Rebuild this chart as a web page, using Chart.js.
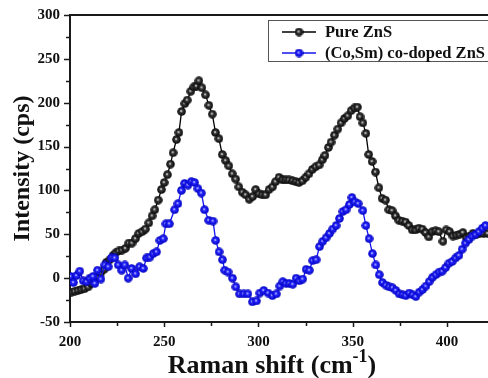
<!DOCTYPE html>
<html>
<head>
<meta charset="utf-8">
<script src="https://cdn.jsdelivr.net/npm/chart.js@4.4.1/dist/chart.umd.min.js"></script>
<style>
  html, body { margin: 0; padding: 0; background: #fff; }
  #wrap { width: 488px; height: 378px; }
</style>
</head>
<body>
<div id="wrap"><canvas id="chart" width="488" height="378"></canvas></div>
<script>
// Pure ZnS
const pureX = [200.7, 202.5, 204.3, 206.0, 207.8, 209.6, 211.3, 213.1, 214.5, 216.3, 218.1, 219.3, 221.1, 222.9, 224.3, 225.9,
  227.6, 229.4, 231.2, 232.9, 234.7, 236.5, 238.3, 240.0, 241.8, 243.6, 245.0, 246.8, 248.5, 250.0, 251.7, 253.3,
  254.7, 256.5, 257.8, 259.2, 260.9, 262.2, 264.1, 265.7, 267.1, 268.4, 270.0, 271.9, 273.7, 275.5, 277.2, 279.0,
  280.8, 282.6, 284.3, 286.1, 287.9, 289.6, 291.4, 293.2, 295.1, 296.9, 298.5, 300.3, 302.0, 303.8, 305.6, 307.4,
  309.1, 310.9, 312.7, 314.4, 316.2, 318.0, 319.8, 321.5, 323.3, 325.1, 326.8, 328.6, 330.4, 332.2, 333.9, 335.3,
  337.1, 338.5, 340.3, 342.1, 343.8, 345.6, 347.4, 349.2, 350.9, 352.5, 353.9, 355.4, 357.0, 358.5, 360.3, 362.1,
  363.9, 365.6, 367.4, 369.2, 370.9, 372.7, 374.5, 376.3, 378.0, 379.8, 381.6, 383.3, 385.1, 386.9, 388.7, 390.4,
  392.2, 394.0, 395.7, 397.9, 399.6, 401.4, 403.2, 405.0, 406.7, 408.5, 410.3, 412.0, 413.8, 415.6, 417.4, 419.5, 421.6];
const pureY = [-16, -15, -14, -13, -12, -10, -6, -3, 1, 6, 10, 18, 21, 26, 29, 31,
  32, 34, 40, 40, 45, 51, 53, 56, 63, 71, 78, 89, 101, 109, 118, 130,
  143, 158, 166, 190, 199, 203, 213, 218, 219, 225, 217, 209, 197, 187, 166, 159,
  141, 134, 128, 119, 113, 104, 98, 95, 90, 93, 101, 96, 95, 95, 101, 104,
  110, 115, 112, 112, 112, 111, 110, 109, 111, 115, 119, 124, 127, 129, 135, 140,
  149, 155, 163, 170, 177, 182, 185, 191, 194, 195, 184, 177, 165, 141, 133, 121,
  103, 91, 89, 78, 77, 71, 66, 65, 64, 60, 55, 55, 57, 56, 52, 47,
  53, 54, 53, 42, 55, 53, 48, 49, 50, 52, 46, 48, 51, 50, 51, 51, 51];

// (Co,Sm) co-doped ZnS
const dopedX = [200.3, 201.8, 203.5, 205.2, 207.0, 208.8, 210.5, 212.2, 213.2, 214.6, 216.4, 218.5, 220.3, 222.0, 223.8, 225.6,
  227.4, 229.1, 230.9, 232.7, 234.8, 236.9, 238.9, 240.6, 242.4, 244.2, 245.9, 247.7, 249.5, 250.9, 252.7, 255.5,
  257.3, 259.1, 260.8, 262.6, 264.4, 266.1, 267.9, 269.7, 271.4, 273.6, 275.9, 277.3, 279.1, 280.9, 282.1, 283.9,
  286.2, 288.0, 290.0, 292.2, 294.4, 296.8, 298.9, 300.7, 302.8, 305.1, 307.4, 309.5, 311.3, 312.9, 314.6, 316.4,
  318.2, 320.0, 321.7, 323.5, 325.3, 327.0, 328.8, 330.6, 332.4, 334.1, 335.9, 337.7, 339.4, 341.2, 343.0, 344.8,
  346.5, 348.3, 349.6, 351.1, 352.9, 355.4, 357.0, 358.7, 360.5, 362.3, 364.1, 365.8, 367.6, 369.4, 371.1, 372.9,
  374.7, 376.5, 378.2, 380.0, 381.8, 383.5, 385.3, 387.1, 388.9, 390.6, 392.4, 394.2, 395.9, 397.5, 399.3, 401.1,
  402.8, 404.6, 406.4, 408.1, 409.9, 411.7, 413.5, 415.2, 417.0, 418.8, 420.5];
const dopedY = [2, -5, 3, 8, -3, -4, 0, 2, -6, 9, -1, 15, 13, 23, 23, 15,
  9, 15, 0, 11, 5, 13, 11, 23, 24, 28, 30, 43, 45, 62, 62, 78,
  85, 100, 108, 106, 110, 109, 102, 97, 78, 66, 65, 43, 30, 21, 9, 7,
  0, -10, -18, -18, -18, -27, -26, -17, -14, -17, -20, -18, -9, -4, -6, -6,
  -7, 0, -3, -1, 10, 9, 20, 21, 36, 42, 46, 51, 56, 60, 68, 76,
  78, 84, 92, 87, 85, 77, 60, 45, 28, 15, 4, -5, -8, -10, -11, -14,
  -18, -19, -20, -17, -19, -21, -16, -13, -9, -4, 1, 4, 7, 8, 12, 17,
  19, 23, 26, 33, 40, 44, 48, 50, 53, 57, 60];

const xTicks = [200, 225, 250, 275, 300, 325, 350, 375, 400];
const yTicks = [-50, -25, 0, 25, 50, 75, 100, 125, 150, 175, 200, 225, 250, 275, 300];

const serif = '"Liberation Serif", "Times New Roman", serif';
const axisColor = '#1a1a1a';

function ball(outer, mid, light) {
  const c = document.createElement('canvas');
  c.width = 9; c.height = 9;
  const g = c.getContext('2d');
  const grad = g.createRadialGradient(4, 4, 0.2, 4.5, 4.5, 4.6);
  grad.addColorStop(0, light);
  grad.addColorStop(0.3, mid);
  grad.addColorStop(1, outer);
  g.fillStyle = grad;
  g.beginPath();
  g.arc(4.5, 4.5, 4.3, 0, Math.PI * 2);
  g.fill();
  return c;
}

const blackBall = ball('#000000', '#3a3a3a', '#f0f0f0');
const blueBall = ball('#0000b8', '#2424ff', '#d8d8ff');

const toPoints = (xs, ys) => xs.map((x, i) => ({ x: x, y: ys[i] }));

// tick marks, top frame line, legend, x title
const decor = {
  id: 'decor',
  afterDatasetsDraw(chart) {
    const ctx = chart.ctx;
    const xs = chart.scales.x, ys = chart.scales.y;
    const area = chart.chartArea;
    ctx.save();
    ctx.strokeStyle = axisColor;
    ctx.lineWidth = 1.5;
    xTicks.forEach(v => {
      const px = Math.round(xs.getPixelForValue(v)) + 0.5;
      const len = v % 50 === 0 ? 5 : 4;
      ctx.beginPath();
      ctx.moveTo(px, area.bottom);
      ctx.lineTo(px, area.bottom + len);
      ctx.stroke();
    });
    yTicks.forEach(v => {
      const py = Math.round(ys.getPixelForValue(v)) + 0.5;
      const len = v % 50 === 0 ? 6 : 4;
      ctx.beginPath();
      ctx.moveTo(area.left - len, py);
      ctx.lineTo(area.left, py);
      ctx.stroke();
    });
    // top frame
    ctx.lineWidth = 2;
    ctx.beginPath();
    ctx.moveTo(area.left - 1, area.top);
    ctx.lineTo(chart.width, area.top);
    ctx.stroke();

    // legend
    ctx.fillStyle = '#fff';
    ctx.fillRect(268.5, 20.5, 230, 41);
    ctx.strokeStyle = '#555';
    ctx.lineWidth = 1;
    ctx.strokeRect(268.5, 20.5, 230, 41);
    const items = chart.data.datasets.map(d => d).sort((a, b) => a.legendIndex - b.legendIndex);
    items.forEach((d, i) => {
      const yy = 32 + i * 21;
      ctx.strokeStyle = d.borderColor;
      ctx.lineWidth = 1.6;
      ctx.beginPath();
      ctx.moveTo(282, yy);
      ctx.lineTo(316, yy);
      ctx.stroke();
      ctx.drawImage(d.pointStyle, 294.5, yy - 4.5);
      ctx.fillStyle = '#111';
      ctx.font = 'bold 16.5px ' + serif;
      ctx.textBaseline = 'middle';
      ctx.textAlign = 'left';
      ctx.fillText(d.label, 325, yy + 1);
    });

    // x axis title with superscript
    const main = 'Raman shift (cm';
    const sup = '-1';
    const close = ')';
    ctx.fillStyle = '#111';
    ctx.textBaseline = 'alphabetic';
    ctx.font = 'bold 26px ' + serif;
    const w1 = ctx.measureText(main).width;
    const w3 = ctx.measureText(close).width;
    ctx.font = 'bold 18px ' + serif;
    const w2 = ctx.measureText(sup).width;
    const total = w1 + w2 + w3;
    let x0 = 272 - total / 2;
    const base = 373;
    ctx.font = 'bold 26px ' + serif;
    ctx.fillText(main, x0, base);
    ctx.font = 'bold 18px ' + serif;
    ctx.fillText(sup, x0 + w1, base - 11);
    ctx.font = 'bold 26px ' + serif;
    ctx.fillText(close, x0 + w1 + w2, base);
    ctx.restore();
  }
};

new Chart(document.getElementById('chart'), {
  type: 'line',
  data: {
    datasets: [
      {
        label: 'Pure ZnS',
        legendIndex: 0,
        data: toPoints(pureX, pureY),
        borderColor: '#000',
        borderWidth: 1.3,
        pointStyle: blackBall,
        order: 1,
        fill: false,
        tension: 0,
      },
      {
        label: '(Co,Sm) co-doped ZnS',
        legendIndex: 1,
        data: toPoints(dopedX, dopedY),
        borderColor: '#1414f0',
        borderWidth: 1.3,
        pointStyle: blueBall,
        order: 0,
        fill: false,
        tension: 0,
      }
    ],
  },
  options: {
    responsive: false,
    animation: false,
    layout: { autoPadding: false, padding: { top: 15, left: 0, right: 0, bottom: 0 } },
    plugins: {
      legend: { display: false },
      tooltip: { enabled: false },
    },
    scales: {
      x: {
        type: 'linear',
        min: 200,
        max: 421.8,
        afterFit: (s) => { s.height = 56; s.paddingLeft = 0; s.paddingRight = 0; },
        afterBuildTicks: (s) => { s.ticks = xTicks.map(v => ({ value: v })); },
        grid: { display: false, drawTicks: false },
        border: { display: true, color: axisColor, width: 2 },
        ticks: {
          autoSkip: false,
          maxRotation: 0,
          padding: 11,
          color: '#111',
          font: { family: serif, size: 15, weight: 'bold' },
          callback: (v) => (v % 50 === 0 ? v : ''),
        },
      },
      y: {
        min: -50,
        max: 300,
        afterFit: (s) => { s.width = 70; s.paddingTop = 0; s.paddingBottom = 0; },
        afterBuildTicks: (s) => { s.ticks = yTicks.map(v => ({ value: v })); },
        grid: { display: false, drawTicks: false },
        border: { display: true, color: axisColor, width: 2 },
        ticks: {
          autoSkip: false,
          padding: 10,
          color: '#111',
          font: { family: serif, size: 15, weight: 'bold' },
          callback: (v) => (v % 50 === 0 ? v : ''),
        },
        title: {
          display: true,
          text: 'Intensity (cps)',
          color: '#111',
          padding: { top: 8, bottom: 0 },
          font: { family: serif, size: 24, weight: 'bold' },
        },
      },
    },
  },
  plugins: [decor],
});
</script>
</body>
</html>
